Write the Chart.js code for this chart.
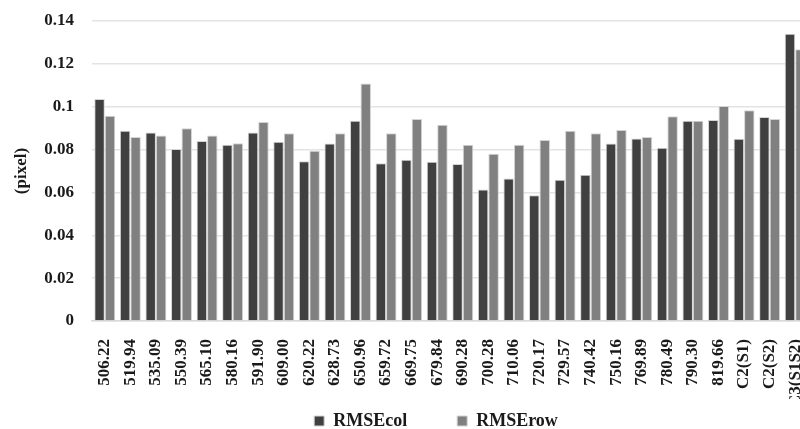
<!DOCTYPE html>
<html>
<head>
<meta charset="utf-8">
<script src="https://cdn.jsdelivr.net/npm/chart.js@4/dist/chart.umd.min.js"></script>
<style>
    html, body { margin: 0; padding: 0; background: #fff; overflow: hidden; }
    #wrap { position: absolute; left: 0; top: 0; width: 884px; height: 477px; }
</style>
</head>
<body>
<div id="wrap"><canvas id="rmseChart"></canvas></div>
<script>
// Wavelength bands and combined channels
const categories = [
    '506.22', '519.94', '535.09', '550.39', '565.10', '580.16', '591.90',
    '609.00', '620.22', '628.73', '650.96', '659.72', '669.75', '679.84',
    '690.28', '700.28', '710.06', '720.17', '729.57', '740.42', '750.16',
    '769.89', '780.49', '790.30', '819.66', 'C2(S1)', 'C2(S2)', 'C3(S1S2)'
];

const rmseCol = [
    0.1036, 0.0888, 0.0880, 0.0803, 0.0840, 0.0822, 0.0880,
    0.0837, 0.0746, 0.0828, 0.0935, 0.0736, 0.0752, 0.0743,
    0.0733, 0.0614, 0.0665, 0.0587, 0.0659, 0.0682, 0.0828,
    0.0852, 0.0809, 0.0935, 0.0938, 0.0850, 0.0952, 0.1341
];

const rmseRow = [
    0.0958, 0.0859, 0.0866, 0.0899, 0.0866, 0.0829, 0.0929,
    0.0876, 0.0794, 0.0876, 0.1108, 0.0876, 0.0943, 0.0916,
    0.0823, 0.0780, 0.0823, 0.0845, 0.0888, 0.0876, 0.0891,
    0.0859, 0.0956, 0.0935, 0.1003, 0.0983, 0.0943, 0.1268
];

const yTickLabels = ['0', '0.02', '0.04', '0.06', '0.08', '0.1', '0.12', '0.14'];

const serif = "'Liberation Serif', 'Times New Roman', serif";

Chart.defaults.font.family = serif;
Chart.defaults.font.weight = 'bold';
Chart.defaults.color = '#222';

// Legend sits just under the rotated labels, a little right of the plot centre
const legendShift = {
    id: 'legendShift',
    afterLayout: chart => {
        const legend = chart.legend;
        legend.right = chart.width - 12;
        legend.top -= 37;
        legend.bottom -= 37;
    }
};

const rmseChart = new Chart(
    document.getElementById('rmseChart'),
    {
        type: 'bar',
        data: {
            labels: categories,
            datasets: [
                {
                    label: 'RMSEcol',
                    data: rmseCol,
                    backgroundColor: '#404040',
                    borderColor: '#d4d4d4',
                    borderWidth: 1
                },
                {
                    label: 'RMSErow',
                    data: rmseRow,
                    backgroundColor: '#808080',
                    borderColor: '#d4d4d4',
                    borderWidth: 1
                }
            ]
        },
        options: {
            responsive: true,
            maintainAspectRatio: false,
            animation: false,
            categoryPercentage: 0.82,
            barPercentage: 1,
            layout: {
                padding: { top: 21, right: 76, left: 0, bottom: 0 }
            },
            scales: {
                x: {
                    grid: { display: false },
                    border: { color: '#d9d9d9', width: 1.5 },
                    ticks: {
                        maxRotation: 90,
                        minRotation: 90,
                        autoSkip: false,
                        padding: 10,
                        color: '#1a1a1a',
                        font: { size: 17, weight: 'bold' }
                    },
                    afterFit: scale => { scale.height = 78; }
                },
                y: {
                    min: 0,
                    max: 0.14,
                    border: { display: false },
                    grid: {
                        color: '#e3e3e3',
                        lineWidth: 1.5,
                        drawTicks: false
                    },
                    ticks: {
                        stepSize: 0.02,
                        padding: 18,
                        color: '#1a1a1a',
                        font: { size: 17, weight: 'bold' },
                        callback: (value, index) => yTickLabels[index]
                    },
                    title: {
                        display: true,
                        text: '(pixel)',
                        color: '#1a1a1a',
                        font: { size: 17, weight: 'bold' },
                        padding: { top: 11, bottom: 0 }
                    },
                    afterFit: scale => {
                        scale.width = 92;
                        scale.paddingTop = 0;
                        scale.paddingBottom = 0;
                    }
                }
            },
            plugins: {
                legend: {
                    position: 'bottom',
                    labels: {
                        boxWidth: 10,
                        boxHeight: 10,
                        padding: 50,
                        color: '#1a1a1a',
                        font: { size: 18, weight: 'bold' }
                    }
                },
                tooltip: { enabled: false }
            }
        },
        plugins: [legendShift]
    }
);
</script>
</body>
</html>
